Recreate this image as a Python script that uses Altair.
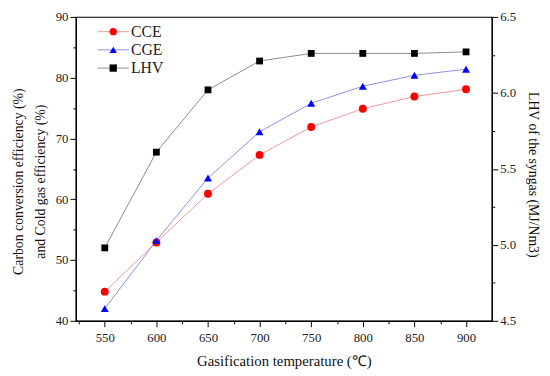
import altair as alt
import pandas as pd

temps = [550, 600, 650, 700, 750, 800, 850, 900]
cce = [44.8, 52.9, 60.9, 67.3, 71.9, 74.9, 76.9, 78.1]
cge = [42.0, 53.2, 63.5, 71.1, 75.8, 78.6, 80.4, 81.4]
lhv = [4.98, 5.61, 6.02, 6.21, 6.26, 6.26, 6.26, 6.27]

series = ["CCE", "CGE", "LHV"]
line_series = ["CCE ", "CGE ", "LHV "]
marker_colors = ["#ff0000", "#0000ff", "#000000"]
line_colors = ["#e89a9a", "#8f8fe0", "#8c8c8c"]
shapes = ["circle", "triangle-up", "square"]

x_ticks = [525 + 25 * i for i in range(16)]
yl_ticks = [40 + 5 * i for i in range(11)]
yr_ticks = [4.5 + 0.25 * i for i in range(9)]

n = len(temps)
left_df = pd.DataFrame({
    "T": temps * 2,
    "v": cce + cge,
    "series": [series[0]] * n + [series[1]] * n,
    "line_series": [line_series[0]] * n + [line_series[1]] * n,
})
right_df = pd.DataFrame({
    "T": temps,
    "v": lhv,
    "series": [series[2]] * n,
    "line_series": [line_series[2]] * n,
})

FONT = "Liberation Serif"

x_enc = alt.X(
    "T:Q",
    scale=alt.Scale(domain=[522, 925], nice=False, zero=False),
    axis=alt.Axis(
        values=x_ticks,
        title="Gasification temperature (℃)",
        labelExpr="datum.value % 50 === 0 ? datum.label : ''",
        tickSize={"condition": {"test": "datum.value % 50 !== 0", "value": 3}, "value": 6},
        grid=False,
        labelPadding=5,
        titlePadding=9,
        titleFontSize=15,
    ),
)

marker_legend = alt.Legend(
    title=None,
    orient="none",
    legendX=30,
    legendY=7,
    labelFont=FONT,
    labelFontSize=16,
    labelColor="#222",
    symbolSize=55,
    rowPadding=2.5,
    symbolStrokeWidth=0,
    labelOffset=10,
)
line_legend = alt.Legend(
    title=None,
    orient="none",
    legendX=30,
    legendY=7,
    labelFont=FONT,
    labelFontSize=16,
    labelExpr="' '",
    symbolType="M-4,0L4,0",
    symbolSize=64,
    symbolStrokeWidth=1,
    symbolFillColor="transparent",
    rowPadding=2.5,
    labelOffset=10,
)

color_enc = alt.Color("series:N", scale=alt.Scale(domain=series, range=marker_colors), legend=marker_legend)
shape_enc = alt.Shape("series:N", scale=alt.Scale(domain=series, range=shapes), legend=marker_legend)
stroke_enc = alt.Stroke("line_series:N", scale=alt.Scale(domain=line_series, range=line_colors), legend=line_legend)

yl = alt.Y(
    "v:Q",
    scale=alt.Scale(domain=[40, 90], nice=False, zero=False),
    axis=alt.Axis(
        orient="left",
        values=yl_ticks,
        title=["Carbon conversion efficiency (%)", "and Cold gas efficiency (%)"],
        labelExpr="datum.value % 10 === 0 ? datum.label : ''",
        tickSize={"condition": {"test": "datum.value % 10 !== 0", "value": 3}, "value": 6},
        grid=False,
        titlePadding=8,
        titleFontSize=14,
        titleLineHeight=22,
        titleY=167,
    ),
)
yr = alt.Y(
    "v:Q",
    scale=alt.Scale(domain=[4.5, 6.5], nice=False, zero=False),
    axis=alt.Axis(
        orient="right",
        values=yr_ticks,
        format=".1f",
        title="LHV of the syngas (MJ/Nm3)",
        labelExpr="(datum.value * 2) % 1 === 0 ? datum.label : ''",
        tickSize={"condition": {"test": "(datum.value * 2) % 1 !== 0", "value": 3}, "value": 6},
        grid=False,
        titlePadding=10,
        titleFontSize=14,
        titleY=160,
    ),
)

left_base = alt.Chart(left_df)
left = alt.layer(
    left_base.mark_line(strokeWidth=1).encode(x=x_enc, y=yl, stroke=stroke_enc),
    left_base.mark_point(filled=True, size=65, opacity=1).encode(x=x_enc, y=yl, color=color_enc, shape=shape_enc),
)
right_base = alt.Chart(right_df)
right = alt.layer(
    right_base.mark_line(strokeWidth=1).encode(x=x_enc, y=yr, stroke=stroke_enc),
    right_base.mark_point(filled=True, size=48, opacity=1).encode(x=x_enc, y=yr, color=color_enc, shape=shape_enc),
)

chart = (
    alt.layer(left, right)
    .resolve_scale(y="independent")
    .properties(width=423, height=309, padding={"left": 4, "top": 0, "right": 2, "bottom": 4}, background="white")
    .configure_view(stroke="black", strokeWidth=1.2)
    .configure_axis(
        labelFont=FONT,
        titleFont=FONT,
        labelFontSize=13,
        titleFontWeight="normal",
        labelColor="#222",
        titleColor="#111",
        domainColor="black",
        tickColor="black",
        domainWidth=1.2,
    )
)

chart.save("out.html", embed_options={"renderer": "svg", "actions": False})
